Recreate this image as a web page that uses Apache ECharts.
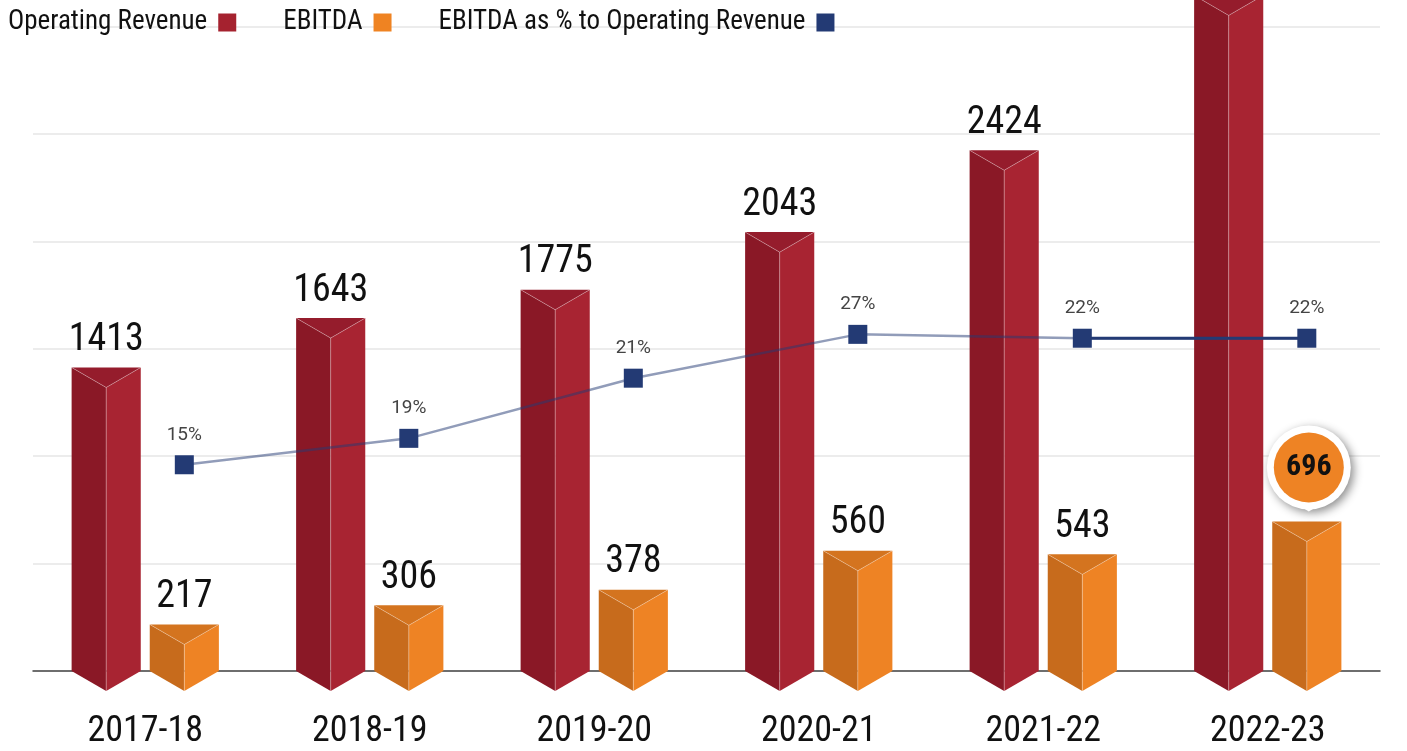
<!DOCTYPE html>
<html><head><meta charset="utf-8">
<script src="https://cdn.jsdelivr.net/npm/echarts@6/dist/echarts.min.js"></script>
<style>html,body{margin:0;padding:0;background:#fff}#c{width:1407px;height:751px}</style>
</head><body><div id="c"></div>
<script>
const years = ['2017-18','2018-19','2019-20','2020-21','2021-22','2022-23'];
const revenue = [1413,1643,1775,2043,2424,3145];
const ebitda = [217,306,378,560,543,696];
const marginLabels = ['15%','19%','21%','27%','22%','22%'];
const marginLevel = [960,1083,1363,1567,1549,1549];
const highlightIndex = 5;

const FONT = "'Roboto Condensed','Liberation Sans Narrow','DejaVu Sans Condensed',Roboto,sans-serif";
const OFF = 0.174, WID = 0.308;

const RED = {left:'#8A1826', right:'#A82432', top:'#951C2C', legend:'#A5222F'};
const ORG = {left:'#C76B1C', right:'#EE8324', top:'#D4741F', legend:'#EF8322'};
const NAVY = '#233A74';

function prismRender(col, offFrac, bubble) {
  return function(params, api) {
    const idx = api.value(0), val = api.value(1);
    const band = api.size([1, 0])[0];
    const c = api.coord([idx, val]);
    const b = api.coord([idx, 0]);
    const w = band * WID;
    const cx = c[0] + band * offFrac;
    const L = cx - w / 2, R = cx + w / 2, T = c[1], B = b[1];
    const d = w * 0.29;
    const kids = [
      {type:'polygon', shape:{points:[[L,T],[cx,T+d],[cx,B+d],[L,B]]}, style:{fill:col.left}},
      {type:'polygon', shape:{points:[[cx,T+d],[R,T],[R,B],[cx,B+d]]}, style:{fill:col.right}},
      {type:'polygon', shape:{points:[[L,T],[R,T],[cx,T+d]]}, style:{fill:col.top}},
      {type:'polyline', shape:{points:[[L,T],[cx,T+d],[R,T]]}, style:{stroke:'rgba(255,255,255,0.3)', lineWidth:1, fill:null}},
      {type:'line', shape:{x1:cx,y1:T+d,x2:cx,y2:B+d}, style:{stroke:'rgba(255,255,255,0.3)', lineWidth:1}}
    ];
    if (bubble && idx === highlightIndex) {
      const cy = T - 54;
      kids.push(
        {type:'circle', shape:{cx:cx+2, cy:cy, r:42}, style:{fill:'#fff', shadowBlur:10, shadowColor:'rgba(0,0,0,0.45)', shadowOffsetX:3, shadowOffsetY:3}},
        {type:'polygon', shape:{points:[[cx-8,cy+38],[cx+12,cy+38],[cx+2,T-10]]}, style:{fill:'#fff'}},
        {type:'circle', shape:{cx:cx+2, cy:cy, r:35}, style:{fill:col.right}},
        {type:'text', style:{text:String(val), x:cx+2, y:cy, align:'center', verticalAlign:'middle', fontSize:30, fontWeight:'bold', fontFamily:FONT, fill:'#111'}}
      );
    } else {
      kids.push({type:'text', style:{text:String(val), x:cx, y:T-8, align:'center', verticalAlign:'bottom', fontSize:38, fontFamily:FONT, fill:'#111'}});
    }
    return {type:'group', children:kids};
  };
}

const chart = echarts.init(document.getElementById('c'), null, {renderer:'canvas'});
chart.setOption({
  animation:false,
  backgroundColor:'#fff',
  grid:{left:33, right:27, top:26.5, bottom:80, containLabel:false},
  legend:{
    left:3, top:4, align:'right', itemWidth:18, itemHeight:18, itemGap:47,
    textStyle:{fontSize:27, color:'#111', fontFamily:FONT, padding:[0,6,0,0]},
    data:[
      {name:'Operating Revenue', icon:'rect', itemStyle:{color:RED.legend}},
      {name:'EBITDA', icon:'rect', itemStyle:{color:ORG.legend}},
      {name:'EBITDA as % to Operating Revenue', icon:'rect', itemStyle:{color:NAVY}}
    ]
  },
  xAxis:[
    {type:'category', data:years, axisTick:{show:false},
     axisLine:{lineStyle:{color:'#444', width:1.5}},
     axisLabel:{fontSize:36, color:'#111', margin:43, fontFamily:FONT}},
    {type:'value', min:-0.5, max:years.length-0.5, show:false}
  ],
  yAxis:{type:'value', min:0, max:3000, interval:500,
    axisLabel:{show:false}, axisLine:{show:false}, axisTick:{show:false},
    splitLine:{lineStyle:{color:'#e6e6e6', width:1.5}}},
  series:[
    {name:'Operating Revenue', type:'custom', clip:false, itemStyle:{color:RED.legend},
     encode:{x:0, y:1}, data:revenue.map((v,i)=>[i,v]), renderItem:prismRender(RED, -OFF, false), z:2},
    {name:'EBITDA', type:'custom', clip:false, itemStyle:{color:ORG.legend},
     encode:{x:0, y:1}, data:ebitda.map((v,i)=>[i,v]), renderItem:prismRender(ORG, OFF, true), z:2},
    {name:'EBITDA as % to Operating Revenue', type:'line', xAxisIndex:1, z:5,
     data:marginLevel.map((v,i)=>[i+OFF, v]),
     symbol:'rect', symbolSize:19, itemStyle:{color:NAVY},
     lineStyle:{color:'rgba(35,58,116,0.5)', width:2.5},
     label:{show:true, position:'top', distance:11, fontSize:19, color:'#444', fontFamily:'Roboto',
       formatter:p=>marginLabels[p.dataIndex]}},
    {name:'marginTail', type:'line', xAxisIndex:1, z:5, symbol:'none',
     data:marginLevel.map((v,i)=>[i+OFF, v]).slice(4),
     lineStyle:{color:NAVY, width:3}}
  ]
});
</script></body></html>
